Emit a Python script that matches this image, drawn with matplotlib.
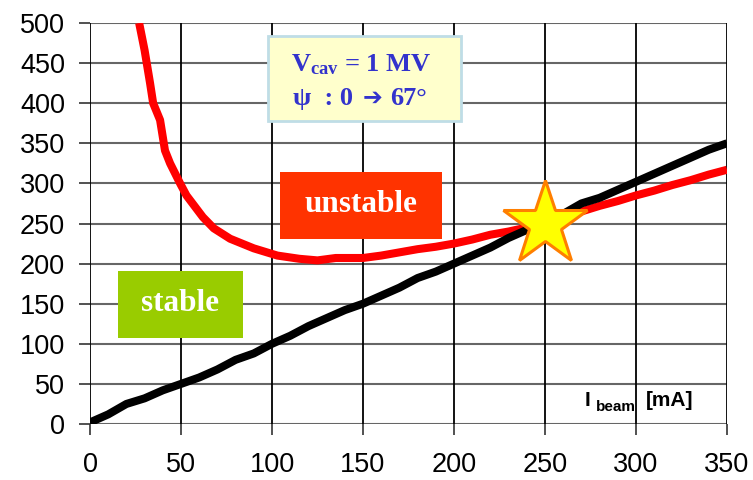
import matplotlib
matplotlib.use("Agg")
import matplotlib.pyplot as plt
from matplotlib.patches import Rectangle

plt.rcParams['mathtext.fontset'] = 'custom'
plt.rcParams['mathtext.bf'] = 'Liberation Serif:bold'
plt.rcParams['mathtext.rm'] = 'Liberation Serif'
plt.rcParams['mathtext.it'] = 'Liberation Serif:italic'

# ---- data ----
red_x = [27, 30, 33, 34.7, 38.5, 41.2, 44, 49.5, 53, 57, 62, 68, 77, 90, 103, 115,
         125, 135, 150, 160, 170, 180, 190, 200, 210, 220, 230, 240, 250, 260, 270,
         280, 290, 300, 310, 320, 330, 340, 350]
red_y = [500, 466, 425, 400, 379, 341, 325, 300, 285, 273, 258, 244, 231, 219, 210,
         206, 204, 207, 207, 210, 214, 218, 221, 225, 230, 236, 240, 245, 251, 258,
         265, 272, 278, 285, 291, 298, 304, 311, 317]
black_x = [0, 10, 20, 30, 40, 50, 60, 70, 80, 90, 100, 110, 120, 130, 140, 150, 160,
           170, 180, 190, 200, 210, 220, 230, 240, 250, 260, 270, 280, 290, 300, 310,
           320, 330, 340, 350]
black_y = [2, 12, 25, 32, 42, 50, 58, 68, 80, 88, 100, 110, 122, 132, 142, 150, 160,
           170, 182, 190, 200, 210, 220, 232, 242, 252, 262, 275, 282, 292, 302, 312,
           322, 332, 342, 350]
star_point = (250, 250)
x_ticks = [0, 50, 100, 150, 200, 250, 300, 350]
y_ticks = [0, 50, 100, 150, 200, 250, 300, 350, 400, 450, 500]

W, H = 753, 480
fig = plt.figure(figsize=(W / 100, H / 100), dpi=100)
ax = fig.add_axes([90 / W, (H - 424) / H, (727 - 90) / W, (424 - 23) / H])

ax.set_xlim(0, 350)
ax.set_ylim(0, 500)
ax.set_xticks(x_ticks)
ax.set_yticks(y_ticks)
ax.tick_params(axis='both', labelsize=19.5, length=8, width=1.2, color='#333333')
ax.tick_params(axis='y', pad=10)
ax.tick_params(axis='x', pad=12)
for lab in ax.get_xticklabels() + ax.get_yticklabels():
    lab.set_fontfamily('Liberation Sans')

for s in ax.spines.values():
    s.set_visible(False)

for yv in y_ticks:
    ax.axhline(yv, color='#666666', lw=1.5, zorder=1)
for xv in x_ticks:
    ax.axvline(xv, color='black', lw=1.3, zorder=1)

ax.plot(red_x, red_y, color='#FF0000', lw=5.8, solid_joinstyle='round',
        solid_capstyle='butt', zorder=3)
ax.plot(black_x, black_y, color='black', lw=5.8, solid_joinstyle='round',
        solid_capstyle='butt', zorder=4)

ax.plot([star_point[0]], [star_point[1]], marker='*', markersize=64,
        markerfacecolor='#FFFF00', markeredgecolor='#FF7F00', markeredgewidth=2.2,
        zorder=6)

# unstable box
ax.add_patch(Rectangle((104.4, 231), 89, 83, facecolor='#FF3300', edgecolor='none',
                       zorder=5))
ax.text(149, 274, 'unstable', color='white', fontsize=22.5, fontweight='bold',
        family='Liberation Serif', ha='center', va='center', zorder=7)

# stable box
ax.add_patch(Rectangle((15.4, 107.5), 68.6, 83.5, facecolor='#99CC00',
                       edgecolor='none', zorder=5))
ax.text(49.7, 150, 'stable', color='white', fontsize=22.5, fontweight='bold',
        family='Liberation Serif', ha='center', va='center', zorder=7)

# info box
ax.add_patch(Rectangle((97.8, 377.5), 106, 106.5, facecolor='#FFFFCC',
                       edgecolor='#BFDDE6', lw=2, zorder=5))
ax.text(149, 448, r'V$_{\mathbf{cav}}$ = 1 MV', color='#3333CC', fontsize=19,
        fontweight='bold', family='Liberation Serif', ha='center', va='center',
        zorder=7)
ax.text(128, 406, 'ψ  : 0', color='#3333CC', fontsize=19,
        fontweight='bold', family=['Liberation Serif', 'DejaVu Serif'],
        ha='center', va='center', zorder=7)
ax.text(155, 407, '➔', color='#3333CC', fontsize=17,
        fontweight='bold', family=['DejaVu Sans'],
        ha='center', va='center', zorder=7)
ax.text(175, 406, '67°', color='#3333CC', fontsize=19,
        fontweight='bold', family=['Liberation Serif', 'DejaVu Serif'],
        ha='center', va='center', zorder=7)

ax.text(272, 29, 'I', fontsize=15, fontweight='bold', family='Liberation Sans',
        ha='left', va='center', zorder=7)
ax.text(278, 21, 'beam', fontsize=11, fontweight='bold',
        family='Liberation Sans', ha='left', va='center', zorder=7)
ax.text(305.5, 29, '[mA]', fontsize=15, fontweight='bold', family='Liberation Sans',
        ha='left', va='center', zorder=7)

fig.savefig('out.png', dpi=100)
